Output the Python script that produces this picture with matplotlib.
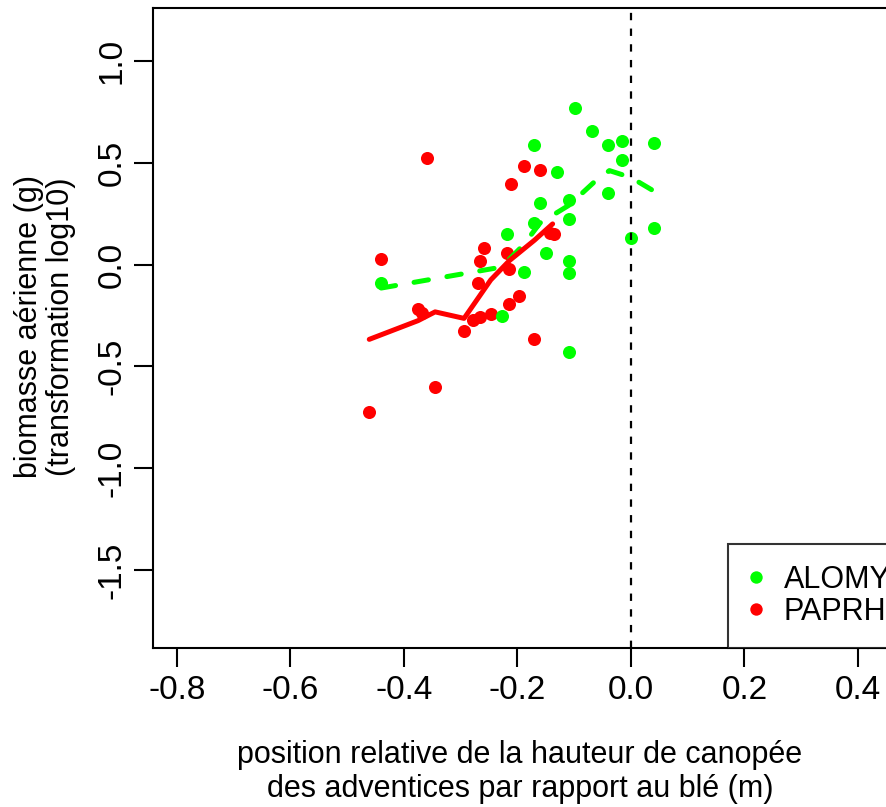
import numpy as np
import matplotlib.pyplot as plt

plt.rcParams['font.family'] = ['Liberation Sans', 'DejaVu Sans']
plt.rcParams['lines.scale_dashes'] = False
plt.rcParams['axes.unicode_minus'] = False

# ALOMY (green) points
alomy_x = [-0.098, -0.068, -0.170, -0.040, -0.016, 0.040, -0.016, -0.130, -0.040, -0.160,
           -0.109, -0.109, -0.171, 0.040, 0.000, -0.218, -0.149, -0.109, -0.188, -0.109,
           -0.440, -0.228, -0.109]
alomy_y = [0.768, 0.655, 0.587, 0.587, 0.607, 0.596, 0.515, 0.453, 0.352, 0.301,
           0.317, 0.222, 0.203, 0.181, 0.131, 0.149, 0.058, 0.019, -0.035, -0.043,
           -0.092, -0.254, -0.428]

# PAPRH (red) points
paprh_x = [-0.359, -0.188, -0.160, -0.211, -0.143, -0.135, -0.440, -0.259, -0.218, -0.266,
           -0.215, -0.269, -0.375, -0.368, -0.294, -0.279, -0.266, -0.247, -0.214, -0.197,
           -0.170, -0.345, -0.461]
paprh_y = [0.522, 0.483, 0.465, 0.394, 0.155, 0.150, 0.027, 0.080, 0.058, 0.016,
           -0.023, -0.092, -0.220, -0.236, -0.326, -0.272, -0.256, -0.244, -0.194, -0.154,
           -0.367, -0.600, -0.722]

# smoothed curves
alomy_fit_x = [-0.440, -0.228, -0.190, -0.160, -0.109, -0.065, -0.038, 0.000, 0.040]
alomy_fit_y = [-0.115, -0.012, 0.095, 0.205, 0.292, 0.405, 0.462, 0.428, 0.362]
paprh_fit_x = [-0.461, -0.375, -0.345, -0.294, -0.247, -0.214, -0.170, -0.138]
paprh_fit_y = [-0.367, -0.275, -0.232, -0.264, -0.075, 0.020, 0.120, 0.200]

xticks = [-0.8, -0.6, -0.4, -0.2, 0.0, 0.2, 0.4]
xlabels = ['-0.8', '-0.6', '-0.4', '-0.2', '0.0', '0.2', '0.4']
yticks = [-1.5, -1.0, -0.5, 0.0, 0.5, 1.0]
ylabels = ['-1.5', '-1.0', '-0.5', '0.0', '0.5', '1.0']

W, H = 887, 807
fig = plt.figure(figsize=(W / 100, H / 100), dpi=100)
left_px, right_px, top_px, bottom_px = 153.3, 895, 7.5, 648
ax = fig.add_axes([left_px / W, (H - bottom_px) / H,
                   (right_px - left_px) / W, (bottom_px - top_px) / H])

p_red, = ax.plot(paprh_x, paprh_y, 'o', color='#ff0000', markersize=9.4,
                 markeredgewidth=0, label='PAPRH')
p_green, = ax.plot(alomy_x, alomy_y, 'o', color='#00ff00', markersize=9.4,
                   markeredgewidth=0, label='ALOMY')

ax.axvline(0, color='black', lw=1.6, dashes=(5.3, 6.0))

ax.plot(alomy_fit_x, alomy_fit_y, color='#00ff00', lw=3.6, dashes=(10.5, 13.5),
        dash_capstyle='round', dash_joinstyle='round')
ax.plot(paprh_fit_x, paprh_fit_y, color='#ff0000', lw=3.6,
        solid_capstyle='round', solid_joinstyle='round')

ax.set_xlim(-0.8415, 0.4652)
ax.set_ylim(-1.883, 1.263)
ax.set_xticks(xticks)
ax.set_xticklabels(xlabels)
ax.set_yticks(yticks)
ax.set_yticklabels(ylabels, rotation=90, va='center')
ax.tick_params(length=13.5, width=1.5, labelsize=24)
ax.tick_params(axis='x', pad=6)
ax.tick_params(axis='y', pad=5)
for s in ax.spines.values():
    s.set_linewidth(1.5)

leg_x = (728 - left_px) / (right_px - left_px)
leg = ax.legend(handles=[p_green, p_red], loc='lower left', bbox_to_anchor=(leg_x, 0),
                borderaxespad=0, fontsize=22, frameon=True, fancybox=False,
                borderpad=0.7, handlelength=0.4, handletextpad=0.73,
                labelspacing=0.05, markerscale=0.95)
leg.get_frame().set_edgecolor('black')
leg.get_frame().set_linewidth(1.5)

fig.text(520 / W, 1 - 772 / H,
         'position relative de la hauteur de canopée\ndes adventices par rapport au blé (m)',
         ha='center', va='center', fontsize=22, linespacing=1.18)
fig.text(45 / W, 1 - 327 / H, 'biomasse aérienne (g)\n(transformation log10)',
         ha='center', va='center', rotation=90, fontsize=22, linespacing=1.1)

fig.savefig('out.png', dpi=100)
